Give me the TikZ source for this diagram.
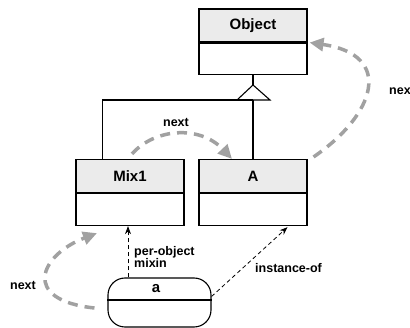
\documentclass[tikz,border=0pt]{standalone}
\usepackage{fontspec}
\setmainfont{Liberation Sans}
\usetikzlibrary{arrows.meta}
\begin{document}
\begin{tikzpicture}[x=1pt,y=-1pt,
 box/.style={draw, line width=1.1pt, minimum width=108pt, inner sep=0pt, font=\fontsize{15}{17}\selectfont\bfseries},
 hdr/.style={box, fill=black!8, minimum height=33pt},
 bdy/.style={box, minimum height=32pt},
 lbl/.style={font=\fontsize{12.5}{11}\selectfont\bfseries, inner sep=0pt},
 nextarrow/.style={draw=black!37, line width=3.5pt, dash pattern=on 10pt off 7pt, -{Triangle[length=14pt,width=13pt]}},
 rel/.style={dash pattern=on 4pt off 3pt, line width=0.8pt, -{Stealth[length=8pt,width=6pt]}},
 solid line/.style={line width=1.1pt}]
\useasboundingbox (0,0) rectangle (410,328);
\clip (0,0) rectangle (410,328);
% class boxes
\node[hdr] (objh) at (253,25.5) {Object};
\node[bdy, anchor=north, minimum height=31pt] (objb) at (objh.south) {};
\node[hdr] (mixh) at (130,176) {Mix1};
\node[bdy, anchor=north] (mixb) at (mixh.south) {};
\node[hdr] (ah) at (253,176) {A};
\node[bdy, anchor=north] (ab) at (ah.south) {};
% inheritance
\coordinate (apex) at (253,85);
\coordinate (tl) at (237,100);
\coordinate (tr) at (270,100);
\coordinate (tb) at (253,100);
\coordinate (ml) at ([xshift=27pt]mixh.north west);
\draw[solid line] (objb.south) -- (apex);
\draw[solid line] (apex) -- (tl) -- (tr) -- cycle;
\draw[solid line] (tb) -- (ah.north);
\draw[solid line] (tb) -| (ml);
% object a
\node[draw, line width=1.1pt, rounded corners=17pt, minimum width=103pt, minimum height=49pt, inner sep=0pt] (a) at (159.5,302.5) {};
\draw[line width=1.1pt] ([yshift=2.5pt]a.west) -- ([yshift=2.5pt]a.east);
\node[font=\fontsize{15}{17}\selectfont\bfseries, inner sep=0pt] (alab) at (156,289) {a};
% relations
\draw[rel] ([xshift=-31.5pt]a.north) -- ([xshift=-2pt]mixb.south);
\node[lbl, align=left, anchor=west] (pmlab) at (134,257) {per-object\\mixin};
\draw[rel] ([yshift=6pt]a.east) -- ([xshift=-20pt,yshift=-1pt]ab.south east);
\node[lbl, anchor=west] (iolab) at (255,268) {instance-of};
% next arrows
\draw[nextarrow] ([xshift=2pt,yshift=5pt]mixh.north) .. controls (155,128) and (200,125) .. ([xshift=-21pt]ah.north);
\node[lbl] (n1) at (176,122) {next};
\draw[nextarrow] ([xshift=6pt,yshift=2pt]ah.north east) .. controls (375,115) and (395,55) .. ([xshift=2pt]objh.south east);
\node[lbl, anchor=west] (n2) at (389,90) {next};
\draw[nextarrow] ([xshift=-13pt,yshift=-5.5pt]a.west) .. controls (20,300) and (40,255) .. ([xshift=-33pt,yshift=-7pt]mixb.south);
\node[lbl] (n3) at (23,285) {next};
\end{tikzpicture}
\end{document}
